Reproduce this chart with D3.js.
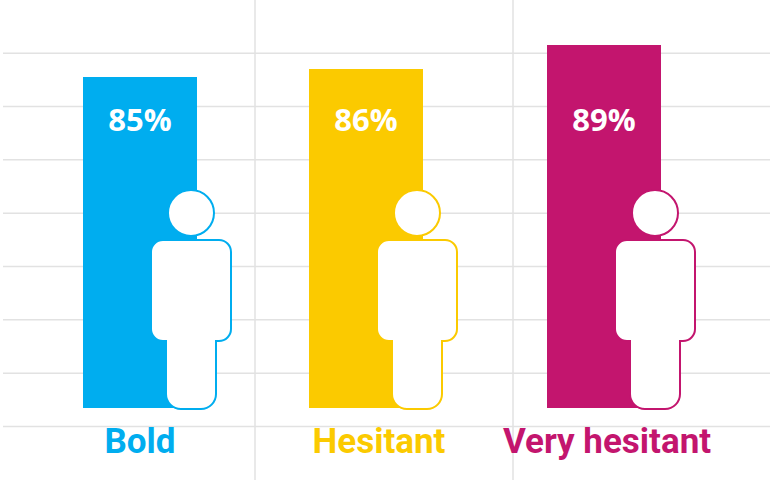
<!DOCTYPE html>
<html>
<head>
<meta charset="utf-8">
<script src="https://cdn.jsdelivr.net/npm/d3@7"></script>
<style>
  html, body { margin: 0; padding: 0; background: #fff; }
  svg { display: block; }
</style>
</head>
<body>
<div id="chart"></div>
<script>
// Chart data
const categories = ["Bold", "Hesitant", "Very hesitant"];
const values = [85, 86, 89];
const colors = ["#00adef", "#fbca00", "#c3156e"];
const gridTicks = [0, 1, 2, 3, 4, 5, 6, 7];

const width = 770;
const height = 480;

const svg = d3.select("#chart")
              .append("svg")
              .attr("width", width)
              .attr("height", height);

// Scales (bar centres are not evenly spaced in the original)
const xScale = d3.scaleOrdinal()
                 .domain(categories)
                 .range([140, 366, 604]);

const yScale = d3.scaleLinear()
                 .domain([80, 90])
                 .range([117, 37]);

const gridScale = d3.scaleLinear()
                    .domain([0, 7])
                    .range([426, 52.7]);

const baseline = 408;
const barWidth = 114;

// Background grid
const grid = svg.append("g")
  .attr("transform", "translate(3,0)")
  .call(d3.axisLeft(gridScale)
          .tickValues(gridTicks)
          .tickSize(-(width - 3))
          .tickFormat(""));
grid.select(".domain").remove();
grid.selectAll(".tick line")
    .attr("stroke", "#e2e2e2")
    .attr("stroke-width", 1.5);

// Two vertical separators
[255, 513].forEach((x) => {
  svg.append("line")
     .attr("x1", x).attr("x2", x)
     .attr("y1", 0).attr("y2", height)
     .attr("stroke", "#e2e2e2")
     .attr("stroke-width", 1.5);
});

// Bars
svg.selectAll("rect.bar")
   .data(values)
   .enter()
   .append("rect")
   .attr("class", "bar")
   .attr("x", (d, i) => xScale(categories[i]) - barWidth / 2)
   .attr("y", (d) => yScale(d))
   .attr("width", barWidth)
   .attr("height", (d) => baseline - yScale(d))
   .attr("fill", (d, i) => colors[i]);

// Person figure: body + legs outline
function personPath(cx, b) {
  const p = d3.path();
  const top = b - 169, bottom = b - 68;
  const r = 12, lr = 15;
  p.moveTo(cx - 40, top + r);
  p.arcTo(cx - 40, top, cx + 40, top, r);
  p.arcTo(cx + 40, top, cx + 40, bottom, r);
  p.arcTo(cx + 40, bottom, cx + 25, bottom, r);
  p.lineTo(cx + 25, bottom);
  p.arcTo(cx + 25, b, cx - 25, b, lr);
  p.arcTo(cx - 25, b, cx - 25, bottom, lr);
  p.lineTo(cx - 25, bottom);
  p.arcTo(cx - 40, bottom, cx - 40, top, r);
  p.closePath();
  return p.toString();
}

const people = svg.selectAll("g.person")
  .data(categories)
  .enter()
  .append("g")
  .attr("class", "person");

people.append("path")
  .attr("d", (d) => personPath(xScale(d) + barWidth / 2 - 6, baseline + 1))
  .attr("fill", "#fff")
  .attr("stroke", (d, i) => colors[i])
  .attr("stroke-width", 2);

people.append("circle")
  .attr("cx", (d) => xScale(d) + barWidth / 2 - 6)
  .attr("cy", baseline + 1 - 196)
  .attr("r", 23)
  .attr("fill", "#fff")
  .attr("stroke", (d, i) => colors[i])
  .attr("stroke-width", 2);

// Percent labels inside bars
svg.selectAll("text.value")
   .data(values)
   .enter()
   .append("text")
   .attr("class", "value")
   .attr("x", (d, i) => xScale(categories[i]))
   .attr("y", 131)
   .attr("text-anchor", "middle")
   .attr("fill", "#fff")
   .style("font-family", "'Open Sans', sans-serif")
   .style("font-weight", 700)
   .style("font-size", "31px")
   .text((d) => d + "%");

// Category labels
const labelX = d3.scaleOrdinal().domain(categories).range([140, 379, 607]);
svg.selectAll("text.cat")
   .data(categories)
   .enter()
   .append("text")
   .attr("class", "cat")
   .attr("x", (d) => labelX(d))
   .attr("y", 453)
   .attr("text-anchor", "middle")
   .attr("fill", (d, i) => colors[i])
   .style("font-family", "Roboto, sans-serif")
   .style("font-weight", 700)
   .style("font-size", "35px")
   .text((d) => d);
</script>
</body>
</html>
